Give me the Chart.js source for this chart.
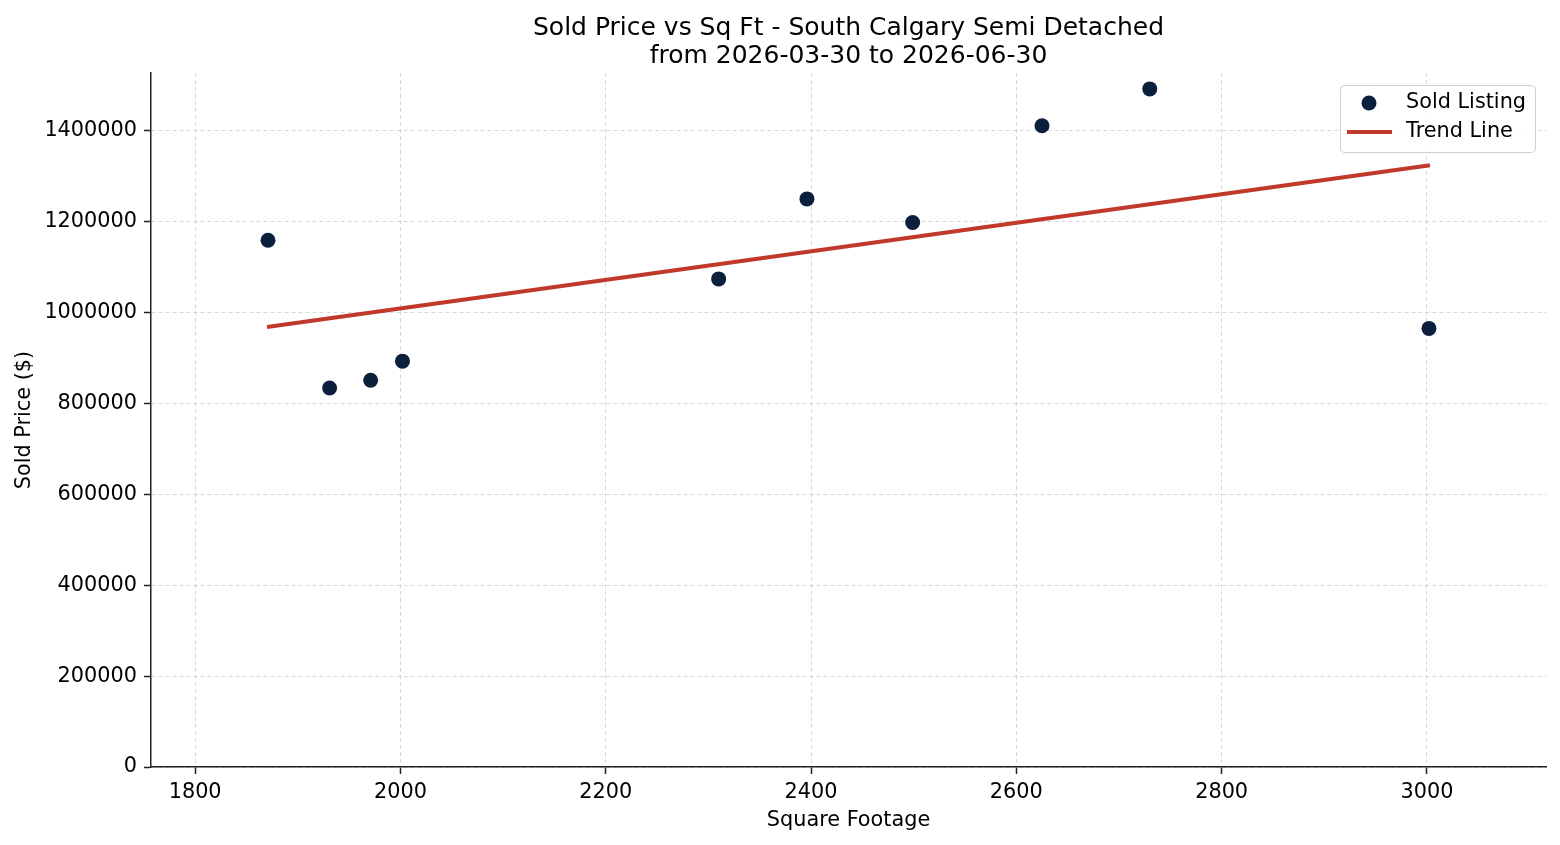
<!DOCTYPE html>
<html>
<head>
<meta charset="utf-8">
<script src="https://cdn.jsdelivr.net/npm/chart.js@4.4.0/dist/chart.umd.min.js"></script>
<style>
  html, body { margin: 0; padding: 0; background: #fff; }
  #wrap { width: 1560px; height: 845px; position: relative; }
</style>
</head>
<body>
<div id="wrap"><canvas id="chart"></canvas></div>
<script>
// sold listings
const sqft = [1871, 1931, 1971, 2002, 2310, 2396, 2499, 2625, 2730, 3002];
const soldPrice = [1159000, 834000, 851000, 893000, 1074000, 1250000, 1198000, 1411000, 1492000, 965000];

// trend line end points
const trendSqft = [1870, 3003];
const trendPrice = [968000, 1324000];

const xTicks = [1800, 2000, 2200, 2400, 2600, 2800, 3000];
const yTicks = [0, 200000, 400000, 600000, 800000, 1000000, 1200000, 1400000];

const titleLines = ['Sold Price vs Sq Ft - South Calgary Semi Detached', 'from 2026-03-30 to 2026-06-30'];

const navy = '#0c1f3d';
const red = '#c0392b';
const fontFamily = '"DejaVu Sans", Verdana, sans-serif';
const labelSize = 20.8;

Chart.defaults.font.family = fontFamily;
Chart.defaults.color = '#000';

// matplotlib style legend box in the upper right corner
const legendBox = {
	id: 'legendBox',
	afterDraw(chart) {
		const { ctx, chartArea } = chart;
		const w = 195, h = 67;
		const x = chartArea.right - 11 - w;
		const y = chartArea.top + 12;
		const sets = chart.data.datasets;

		ctx.save();
		ctx.beginPath();
		ctx.roundRect(x + 0.5, y + 0.5, w, h, 4);
		ctx.fillStyle = 'rgba(255,255,255,0.8)';
		ctx.fill();
		ctx.strokeStyle = '#d0d0d0';
		ctx.lineWidth = 1;
		ctx.stroke();

		ctx.fillStyle = sets[0].backgroundColor;
		ctx.beginPath();
		ctx.arc(x + 29, y + 18, 7.5, 0, Math.PI * 2);
		ctx.fill();

		ctx.strokeStyle = sets[1].borderColor;
		ctx.lineWidth = 4;
		ctx.beginPath();
		ctx.moveTo(x + 7, y + 47);
		ctx.lineTo(x + 52, y + 47);
		ctx.stroke();

		ctx.fillStyle = '#000';
		ctx.font = labelSize + 'px ' + fontFamily;
		ctx.textBaseline = 'middle';
		ctx.fillText(sets[0].label, x + 66, y + 18);
		ctx.fillText(sets[1].label, x + 66, y + 47);
		ctx.restore();
	},
};

const gridOpts = {
	color: 'rgba(190,190,190,0.6)',
	lineWidth: 1,
	tickLength: 7,
	tickColor: '#222',
	tickWidth: 1.5,
	tickBorderDash: [],
};

new Chart(document.getElementById('chart'), {
	type: 'scatter',
	plugins: [legendBox],
	data: {
		datasets: [
			{
				label: 'Sold Listing',
				data: sqft.map((v, i) => ({ x: v, y: soldPrice[i] })),
				backgroundColor: navy,
				borderColor: navy,
				pointRadius: 7.5,
				pointBorderWidth: 0,
				order: 2,
			},
			{
				label: 'Trend Line',
				data: trendSqft.map((v, i) => ({ x: v, y: trendPrice[i] })),
				showLine: true,
				borderColor: red,
				backgroundColor: red,
				borderWidth: 4,
				pointRadius: 0,
				order: 1,
			},
		],
	},
	options: {
		responsive: true,
		maintainAspectRatio: false,
		animation: false,
		layout: { padding: { left: 0, right: 14, top: 0, bottom: 0 } },
		plugins: {
			legend: { display: false },
			tooltip: { enabled: false },
			title: {
				display: true,
				fullSize: false,
				text: titleLines,
				color: '#000',
				font: { size: 25, weight: 'normal', lineHeight: 1.12 },
				padding: { top: 14, bottom: 3 },
			},
		},
		scales: {
			x: {
				type: 'linear',
				min: 1757,
				max: 3116,
				afterBuildTicks: (scale) => {
					scale.ticks = xTicks.map((v) => ({ value: v }));
				},
				afterFit: (scale) => {
					scale.height = 78;
				},
				ticks: {
					font: { size: labelSize },
					padding: 6,
					callback: (v) => String(v),
				},
				grid: gridOpts,
				border: { color: '#222', width: 1.5, dash: [4, 3] },
				title: {
					display: true,
					text: 'Square Footage',
					font: { size: labelSize },
					padding: { top: 0, bottom: 12 },
				},
			},
			y: {
				type: 'linear',
				min: 0,
				max: 1527000,
				afterBuildTicks: (scale) => {
					scale.ticks = yTicks.map((v) => ({ value: v }));
				},
				afterFit: (scale) => {
					scale.width = 151;
				},
				ticks: {
					font: { size: labelSize },
					padding: 7,
					callback: (v) => String(v),
				},
				grid: gridOpts,
				border: { color: '#222', width: 1.5, dash: [4, 3] },
				title: {
					display: true,
					text: 'Sold Price ($)',
					font: { size: labelSize },
					padding: { top: 12, bottom: 0 },
				},
			},
		},
	},
});
</script>
</body>
</html>
